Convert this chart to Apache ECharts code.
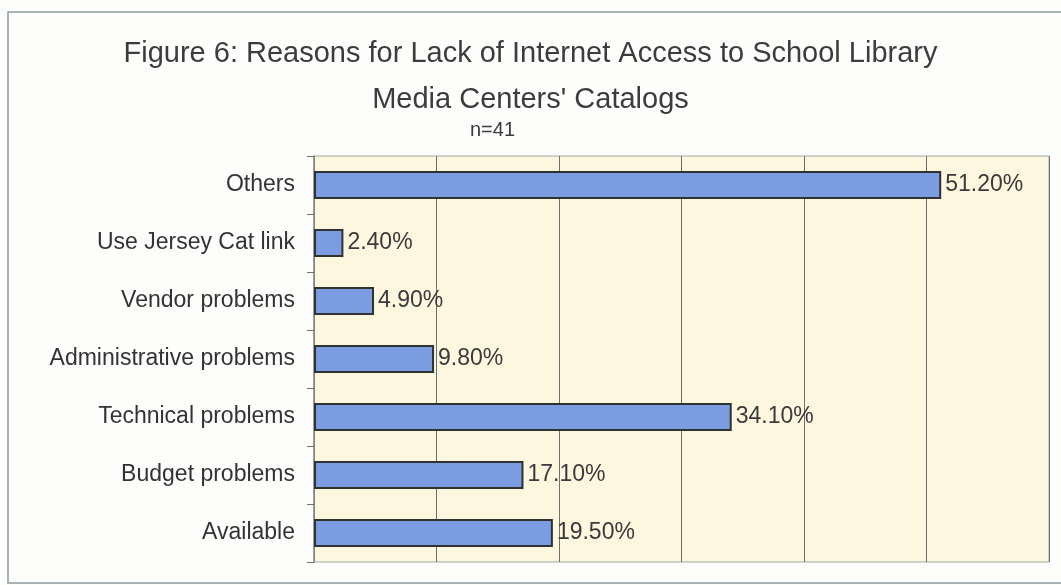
<!DOCTYPE html>
<html>
<head>
<meta charset="utf-8">
<script src="https://cdn.jsdelivr.net/npm/echarts@6/dist/echarts.min.js"></script>
<style>
html,body{margin:0;padding:0;background:#fdfdfc;}
#main{width:1061px;height:585px;}
</style>
</head>
<body>
<div id="main"></div>
<script>
// 类目从下往上
let categories = ['Available', 'Budget problems', 'Technical problems', 'Administrative problems', 'Vendor problems', 'Use Jersey Cat link', 'Others']
let percents = [19.5, 17.1, 34.1, 9.8, 4.9, 2.4, 51.2]
let xTicks = [0, 10, 20, 30, 40, 50, 60]

let narrow = '"Liberation Sans Narrow", "Arial Narrow", "Liberation Sans", Arial, sans-serif'

let myChart = echarts.init(document.getElementById('main'))

let option = {
    backgroundColor: '#fdfdfc',
    animation: false,
    title: [{
        text: "Figure 6: Reasons for Lack of Internet Access to School Library\nMedia Centers' Catalogs",
        left: 'center',
        top: 26,
        textStyle: {
            color: '#3c3c3c',
            fontFamily: narrow,
            fontWeight: 'normal',
            fontSize: 29,
            lineHeight: 46
        }
    }, {
        text: 'n=41',
        left: 465,
        top: 115,
        textStyle: {
            color: '#3c3c3c',
            fontFamily: narrow,
            fontWeight: 'normal',
            fontSize: 20
        }
    }],
    graphic: [{
        type: 'rect',
        shape: {x: 8, y: 12, width: 1070, height: 571},
        style: {fill: 'none', stroke: '#8f9b9b', lineWidth: 1.5},
        silent: true
    }],
    grid: {
        left: 314,
        right: 12,
        top: 156,
        bottom: 23,
        show: true,
        backgroundColor: '#fdf7e0',
        borderColor: '#a0a8a4',
        borderWidth: 1
    },
    xAxis: {
        type: 'value',
        min: xTicks[0],
        max: xTicks[xTicks.length - 1],
        interval: 10,
        axisLabel: {show: false},
        axisTick: {show: false},
        axisLine: {show: false},
        splitLine: {lineStyle: {color: '#6f716c', width: 1}}
    },
    yAxis: {
        type: 'category',
        data: categories,
        axisLine: {lineStyle: {color: '#8a8f8c', width: 1.5}},
        axisTick: {show: true, length: 7, lineStyle: {color: '#6f716c'}},
        axisLabel: {
            color: '#333',
            fontFamily: narrow,
            fontSize: 23,
            margin: 19
        }
    },
    series: [{
        type: 'bar',
        data: percents,
        barCategoryGap: '52%',
        itemStyle: {
            color: '#7b9ce0',
            borderColor: '#2e3230',
            borderWidth: 2
        },
        label: {
            show: true,
            position: 'right',
            distance: 4,
            color: '#3a3a3a',
            fontFamily: narrow,
            fontSize: 23,
            formatter: function (p) {
                return p.value.toFixed(2) + '%'
            }
        }
    }]
}
myChart.setOption(option)
</script>
</body>
</html>
